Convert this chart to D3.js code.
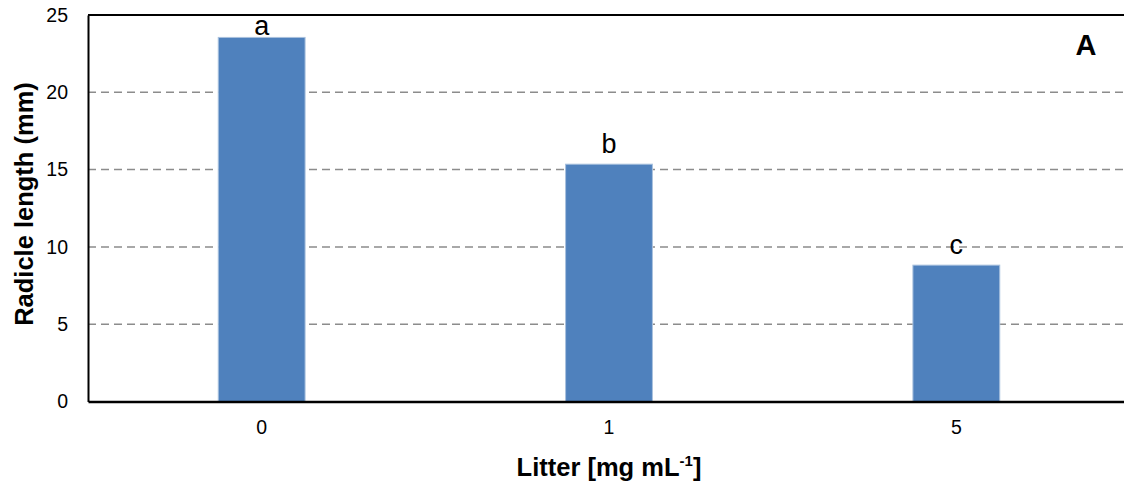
<!DOCTYPE html>
<html>
<head>
<meta charset="utf-8">
<script src="https://cdn.jsdelivr.net/npm/d3@7"></script>
<style>
  html, body { margin: 0; padding: 0; background: #fff; }
  svg { display: block; font-family: "Liberation Sans", Arial, sans-serif; }
</style>
</head>
<body>
<svg id="chart" width="1124" height="483"></svg>
<script>
// Radicle length by litter concentration
const categories = ["0", "1", "5"];
const radicleLength = [23.55, 15.35, 8.82];
const groupLetters = ["a", "b", "c"];
const yTicks = [0, 5, 10, 15, 20, 25];

const svg = d3.select("#chart");
const margin = { left: 88, right: -6, top: 15, bottom: 81.5 };
const W = 1124, H = 483;
const x0 = margin.left, x1 = W - margin.right;
const yTop = margin.top, yBottom = H - margin.bottom;

const x = d3.scaleBand().domain(categories).range([x0, x1])
  .paddingInner(0.75).paddingOuter(0.375);
const y = d3.scaleLinear().domain([0, 25]).range([yBottom, yTop]);

// dashed gridlines
svg.append("g")
  .selectAll("line")
  .data(yTicks.filter(t => t > 0 && t < 25))
  .join("line")
  .attr("x1", x0).attr("x2", x1)
  .attr("y1", d => y(d)).attr("y2", d => y(d))
  .attr("stroke", "#8c8c8c")
  .attr("stroke-width", 1.5)
  .attr("stroke-dasharray", "8,5");

// bars
svg.append("g")
  .selectAll("rect")
  .data(radicleLength)
  .join("rect")
  .attr("x", (d, i) => x(categories[i]))
  .attr("width", x.bandwidth())
  .attr("y", d => y(d))
  .attr("height", d => y(0) - y(d))
  .attr("fill", "#4f81bd")
  .attr("stroke", "#a9c1de")
  .attr("stroke-width", 1);

// top frame line
svg.append("line").attr("x1", x0).attr("x2", x1).attr("y1", yTop).attr("y2", yTop)
  .attr("stroke", "#000").attr("stroke-width", 2);

// y axis
const yAxis = svg.append("g")
  .attr("transform", `translate(${x0},0)`)
  .call(d3.axisLeft(y).tickValues(yTicks).tickSize(0).tickPadding(20));
yAxis.select(".domain").attr("stroke", "#000").attr("stroke-width", 2);
yAxis.selectAll("text").attr("font-size", 19.5).attr("fill", "#000")
  .attr("font-family", "Liberation Sans, Arial, sans-serif");

// x axis
const xAxis = svg.append("g")
  .attr("transform", `translate(0,${yBottom})`)
  .call(d3.axisBottom(x).tickSize(0).tickPadding(19));
xAxis.select(".domain").attr("stroke", "#000").attr("stroke-width", 2.5);
xAxis.selectAll("text").attr("font-size", 19.5).attr("fill", "#000")
  .attr("font-family", "Liberation Sans, Arial, sans-serif");

// significance letters
svg.append("g")
  .selectAll("text")
  .data(radicleLength)
  .join("text")
  .attr("x", (d, i) => x(categories[i]) + x.bandwidth() / 2)
  .attr("y", d => Math.max(y(d) - 11, 35))
  .attr("text-anchor", "middle")
  .attr("font-size", 27)
  .attr("fill", "#000")
  .text((d, i) => groupLetters[i]);

// panel label
svg.append("text")
  .attr("x", 1086).attr("y", 55)
  .attr("text-anchor", "middle")
  .attr("font-size", 29).attr("font-weight", "bold")
  .text("A");

// axis titles
svg.append("text")
  .attr("transform", `translate(33,204) rotate(-90)`)
  .attr("text-anchor", "middle")
  .attr("font-size", 25.5).attr("font-weight", "bold")
  .text("Radicle length (mm)");

const xt = svg.append("text")
  .attr("x", 609).attr("y", 476)
  .attr("text-anchor", "middle")
  .attr("font-size", 25.5).attr("font-weight", "bold");
xt.append("tspan").text("Litter [mg mL");
xt.append("tspan").attr("font-size", 15).attr("dy", -10).text("-1");
xt.append("tspan").attr("dy", 10).text("]");
</script>
</body>
</html>
